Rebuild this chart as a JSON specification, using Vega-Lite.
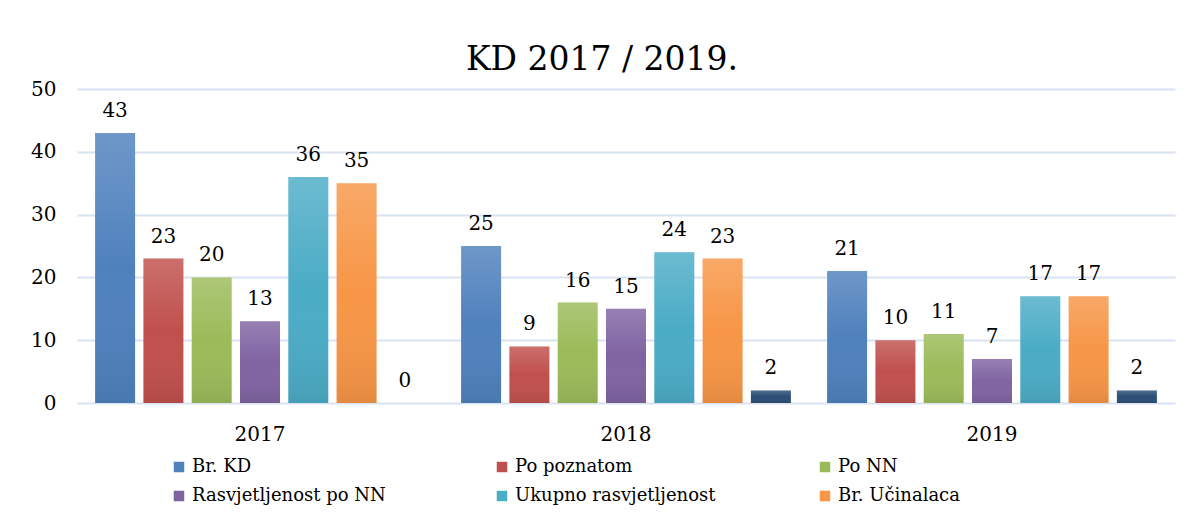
{
  "$schema": "https://vega.github.io/schema/vega-lite/v6.json",
  "autosize": {"type": "none"},
  "width": 1098,
  "height": 314,
  "padding": {"left": 77, "top": 89, "right": 19, "bottom": 119},
  "background": "white",
  "title": {
    "text": "KD 2017 / 2019.",
    "font": "DejaVu Serif",
    "fontSize": 33,
    "fontWeight": "normal",
    "color": "#000000",
    "anchor": "middle",
    "dx": -24,
    "offset": 2
  },
  "config": {
    "view": {"stroke": null},
    "font": "DejaVu Serif",
    "axis": {"labelFont": "DejaVu Serif"},
    "legend": {"labelFont": "DejaVu Serif"},
    "text": {"font": "DejaVu Serif"}
  },
  "data": {
    "values": [
      {"godina": "2017", "serija": "Br. KD", "vrijednost": 43},
      {"godina": "2017", "serija": "Po poznatom", "vrijednost": 23},
      {"godina": "2017", "serija": "Po NN", "vrijednost": 20},
      {"godina": "2017", "serija": "Rasvjetljenost po NN", "vrijednost": 13},
      {"godina": "2017", "serija": "Ukupno rasvjetljenost", "vrijednost": 36},
      {"godina": "2017", "serija": "Br. Učinalaca", "vrijednost": 35},
      {"godina": "2017", "serija": "Ostalo", "vrijednost": 0},
      {"godina": "2018", "serija": "Br. KD", "vrijednost": 25},
      {"godina": "2018", "serija": "Po poznatom", "vrijednost": 9},
      {"godina": "2018", "serija": "Po NN", "vrijednost": 16},
      {"godina": "2018", "serija": "Rasvjetljenost po NN", "vrijednost": 15},
      {"godina": "2018", "serija": "Ukupno rasvjetljenost", "vrijednost": 24},
      {"godina": "2018", "serija": "Br. Učinalaca", "vrijednost": 23},
      {"godina": "2018", "serija": "Ostalo", "vrijednost": 2},
      {"godina": "2019", "serija": "Br. KD", "vrijednost": 21},
      {"godina": "2019", "serija": "Po poznatom", "vrijednost": 10},
      {"godina": "2019", "serija": "Po NN", "vrijednost": 11},
      {"godina": "2019", "serija": "Rasvjetljenost po NN", "vrijednost": 7},
      {"godina": "2019", "serija": "Ukupno rasvjetljenost", "vrijednost": 17},
      {"godina": "2019", "serija": "Br. Učinalaca", "vrijednost": 17},
      {"godina": "2019", "serija": "Ostalo", "vrijednost": 2}
    ]
  },
  "encoding": {
    "x": {
      "field": "godina",
      "type": "nominal",
      "scale": {"paddingInner": 0, "paddingOuter": 0},
      "axis": {
        "title": null,
        "labelAngle": 0,
        "labelFont": "DejaVu Serif",
        "labelFontSize": 20,
        "labelColor": "#000000",
        "labelPadding": 21,
        "ticks": false,
        "domain": false
      }
    },
    "xOffset": {
      "field": "serija",
      "type": "nominal",
      "scale": {
        "domain": ["Br. KD", "Po poznatom", "Po NN", "Rasvjetljenost po NN", "Ukupno rasvjetljenost", "Br. Učinalaca", "Ostalo"],
        "paddingInner": 0.172,
        "paddingOuter": 0.375
      }
    },
    "y": {
      "field": "vrijednost",
      "type": "quantitative",
      "scale": {"domain": [0, 50], "nice": false},
      "axis": {
        "title": null,
        "values": [0, 10, 20, 30, 40, 50],
        "labelFont": "DejaVu Serif",
        "labelFontSize": 20,
        "labelColor": "#000000",
        "labelPadding": 21,
        "ticks": false,
        "domain": false,
        "grid": true,
        "gridColor": "#D9E2F1",
        "gridWidth": 2
      }
    }
  },
  "layer": [
    {
      "mark": {"type": "bar"},
      "encoding": {
        "color": {
          "field": "serija",
          "type": "nominal",
          "scale": {
            "domain": ["Br. KD", "Po poznatom", "Po NN", "Rasvjetljenost po NN", "Ukupno rasvjetljenost", "Br. Učinalaca", "Ostalo"],
            "range": ["#4F81BD", "#C0504D", "#9BBB59", "#8064A2", "#4BACC6", "#F79646", "#2C4D75"]
          },
          "legend": {
            "title": null,
            "values": ["Br. KD", "Po poznatom", "Po NN", "Rasvjetljenost po NN", "Ukupno rasvjetljenost", "Br. Učinalaca"],
            "orient": "none",
            "legendX": 93,
            "legendY": 369,
            "direction": "horizontal",
            "columns": 3,
            "gridAlign": "all",
            "columnPadding": 100,
            "rowPadding": 11,
            "symbolType": "square",
            "symbolSize": 110,
            "symbolStrokeWidth": 0,
            "symbolOpacity": 1,
            "labelFont": "DejaVu Serif",
            "labelFontSize": 18,
            "labelColor": "#000000",
            "labelOffset": 4,
            "labelLimit": 300
          }
        }
      }
    },
    {
      "mark": {
        "type": "bar",
        "color": {
          "gradient": "linear",
          "x1": 0, "y1": 0, "x2": 0, "y2": 1,
          "stops": [
            {"offset": 0, "color": "rgba(255,255,255,0.18)"},
            {"offset": 0.5, "color": "rgba(255,255,255,0.0)"},
            {"offset": 1, "color": "rgba(0,0,0,0.08)"}
          ]
        }
      }
    },
    {
      "mark": {
        "type": "text",
        "baseline": "alphabetic",
        "dy": -16,
        "font": "DejaVu Serif",
        "fontSize": 20,
        "color": "#000000"
      },
      "encoding": {
        "text": {"field": "vrijednost", "type": "quantitative"}
      }
    }
  ]
}
